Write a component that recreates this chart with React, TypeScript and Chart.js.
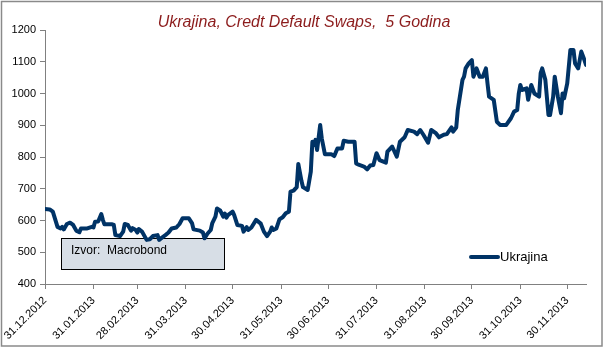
import React, { useEffect, useRef } from "react";
import { Chart, registerables } from "chart.js";

Chart.register(...registerables);

const TITLE = "Ukrajina, Credt Default Swaps,  5 Godina";
const SERIES_NAME = "Ukrajina";
const SOURCE = "Izvor:  Macrobond";

const dates = [
  "31.12.2012", "03.01.2013", "05.01.2013", "08.01.2013", "10.01.2013", "11.01.2013", "12.01.2013", "14.01.2013",
  "16.01.2013", "18.01.2013", "20.01.2013", "22.01.2013", "23.01.2013", "27.01.2013", "30.01.2013", "31.01.2013",
  "01.02.2013", "03.02.2013", "05.02.2013", "06.02.2013", "07.02.2013", "12.02.2013", "13.02.2013", "14.02.2013",
  "17.02.2013", "19.02.2013", "20.02.2013", "22.02.2013", "24.02.2013", "25.02.2013", "27.02.2013", "28.02.2013",
  "01.03.2013", "03.03.2013", "06.03.2013", "08.03.2013", "10.03.2013", "13.03.2013", "14.03.2013", "16.03.2013",
  "18.03.2013", "20.03.2013", "22.03.2013", "25.03.2013", "27.03.2013", "29.03.2013", "02.04.2013", "04.04.2013",
  "05.04.2013", "09.04.2013", "11.04.2013", "12.04.2013", "14.04.2013", "16.04.2013", "17.04.2013", "19.04.2013",
  "20.04.2013", "22.04.2013", "24.04.2013", "25.04.2013", "26.04.2013", "27.04.2013", "30.04.2013", "01.05.2013",
  "03.05.2013", "06.05.2013", "07.05.2013", "09.05.2013", "10.05.2013", "12.05.2013", "15.05.2013", "18.05.2013",
  "20.05.2013", "22.05.2013", "24.05.2013", "25.05.2013", "26.05.2013", "28.05.2013", "30.05.2013", "01.06.2013",
  "03.06.2013", "05.06.2013", "06.06.2013", "08.06.2013", "10.06.2013", "11.06.2013", "13.06.2013", "14.06.2013",
  "17.06.2013", "19.06.2013", "20.06.2013", "21.06.2013", "22.06.2013", "23.06.2013", "25.06.2013", "26.06.2013",
  "28.06.2013", "02.07.2013", "04.07.2013", "06.07.2013", "09.07.2013", "10.07.2013", "13.07.2013", "17.07.2013",
  "18.07.2013", "20.07.2013", "23.07.2013", "25.07.2013", "27.07.2013", "29.07.2013", "31.07.2013", "02.08.2013",
  "06.08.2013", "07.08.2013", "10.08.2013", "13.08.2013", "15.08.2013", "18.08.2013", "20.08.2013", "24.08.2013",
  "26.08.2013", "28.08.2013", "30.08.2013", "02.09.2013", "04.09.2013", "07.09.2013", "09.09.2013", "12.09.2013",
  "14.09.2013", "17.09.2013", "18.09.2013", "20.09.2013", "21.09.2013", "24.09.2013", "25.09.2013", "26.09.2013",
  "28.09.2013", "30.09.2013", "01.10.2013", "03.10.2013", "05.10.2013", "07.10.2013", "09.10.2013", "10.10.2013",
  "11.10.2013", "14.10.2013", "16.10.2013", "18.10.2013", "22.10.2013", "25.10.2013", "27.10.2013", "29.10.2013",
  "30.10.2013", "31.10.2013", "01.11.2013", "04.11.2013", "05.11.2013", "07.11.2013", "09.11.2013", "12.11.2013",
  "13.11.2013", "14.11.2013", "16.11.2013", "18.11.2013", "19.11.2013", "21.11.2013", "22.11.2013", "24.11.2013",
  "26.11.2013", "27.11.2013", "28.11.2013", "30.11.2013", "02.12.2013", "04.12.2013", "05.12.2013", "07.12.2013",
  "09.12.2013", "11.12.2013", "12.12.2013",
];

const cds = [
  636, 635, 628, 580, 575, 580, 572, 589,
  593, 586, 568, 563, 575, 575, 580, 578,
  596, 597, 620, 602, 588, 588, 586, 554,
  551, 565, 589, 586, 568, 576, 570, 562,
  573, 565, 539, 541, 551, 554, 539, 547,
  554, 562, 575, 578, 589, 607, 607, 592,
  572, 568, 562, 544, 559, 570, 592, 612,
  638, 632, 612, 622, 609, 617, 628, 617,
  586, 583, 565, 579, 570, 578, 602, 590,
  565, 551, 565, 578, 570, 575, 604, 610,
  623, 628, 691, 694, 705, 778, 725, 705,
  696, 754, 848, 838, 854, 822, 901, 859,
  809, 809, 803, 827, 827, 851, 848, 848,
  780, 775, 770, 761, 773, 775, 812, 790,
  782, 817, 833, 801, 848, 862, 885, 880,
  872, 885, 870, 845, 885, 875, 862, 870,
  872, 893, 880, 893, 948, 1043, 1053, 1079,
  1095, 1105, 1053, 1079, 1053, 1053, 1079, 1032,
  990, 980, 911, 901, 901, 922, 943, 948,
  1000, 1027, 1011, 1016, 980, 1027, 1000, 990,
  1064, 1079, 1043, 932, 932, 990, 1053, 990,
  938, 1000, 985, 1032, 1137, 1137, 1095, 1079,
  1132, 1105, 1090,
];

const tickDates = [
  "31.12.2012", "31.01.2013", "28.02.2013", "31.03.2013", "30.04.2013", "31.05.2013",
  "30.06.2013", "31.07.2013", "31.08.2013", "30.09.2013", "31.10.2013", "30.11.2013",
];

const yMin = 400;
const yMax = 1200;
const yStep = 100;

function dayOf(s: string): number {
  const [d, m, y] = s.split(".").map(Number);
  const base = Date.UTC(2012, 11, 31);
  return Math.round((Date.UTC(y, m - 1, d) - base) / 86400000);
}

const FONT = "Arial, 'Liberation Sans', sans-serif";
const NAVY = "#003366";

export default function App() {
  const ref = useRef<HTMLCanvasElement | null>(null);

  useEffect(() => {
    if (!ref.current) return;
    const tickMap = new Map<number, string>();
    tickDates.forEach((t) => tickMap.set(dayOf(t), t));
    const points = dates.map((d, i) => ({ x: dayOf(d), y: cds[i] }));

    const decor = {
      id: "decor",
      beforeDatasetsDraw(chart: any) {
        const ctx = chart.ctx;
        ctx.save();
        ctx.fillStyle = "#d7dee6";
        ctx.fillRect(61, 238, 163, 31);
        ctx.strokeStyle = "#000";
        ctx.lineWidth = 1;
        ctx.strokeRect(61.5, 238.5, 163, 31);
        ctx.fillStyle = "#000";
        ctx.font = `12px ${FONT}`;
        ctx.textBaseline = "middle";
        ctx.textAlign = "left";
        ctx.fillText(SOURCE, 71, 251);
        ctx.restore();
      },
      afterDraw(chart: any) {
        const ctx = chart.ctx;
        ctx.save();
        // title
        ctx.fillStyle = "#8c1c1c";
        ctx.font = `italic 16px ${FONT}`;
        ctx.textAlign = "center";
        ctx.textBaseline = "alphabetic";
        ctx.fillText(TITLE, 304, 27);
        // legend
        ctx.strokeStyle = NAVY;
        ctx.lineWidth = 4;
        ctx.lineCap = "round";
        ctx.beginPath();
        ctx.moveTo(471, 257);
        ctx.lineTo(498, 257);
        ctx.stroke();
        ctx.fillStyle = "#000";
        ctx.font = `13px ${FONT}`;
        ctx.textAlign = "left";
        ctx.textBaseline = "middle";
        ctx.fillText(SERIES_NAME, 500, 257);
        // outer frame
        ctx.strokeStyle = "#8a8a8a";
        ctx.lineWidth = 1.5;
        ctx.strokeRect(1.5, 1.5, 600.5, 344.5);
        ctx.restore();
      },
    };

    const chart = new Chart(ref.current, {
      type: "line",
      data: {
        datasets: [
          {
            label: SERIES_NAME,
            data: points,
            borderColor: NAVY,
            backgroundColor: NAVY,
            borderWidth: 4,
            pointRadius: 0,
            tension: 0,
            borderJoinStyle: "round",
            borderCapStyle: "round",
          },
        ],
      },
      options: {
        animation: false,
        responsive: false,
        events: [],
        layout: { padding: { top: 30, left: 0, right: 22, bottom: 0 } },
        plugins: {
          legend: { display: false },
          title: { display: false },
          tooltip: { enabled: false },
        },
        scales: {
          x: {
            type: "linear",
            min: dayOf(dates[0]),
            max: dayOf(dates[dates.length - 1]),
            afterFit(scale: any) {
              scale.height = 69;
            },
            afterBuildTicks(scale: any) {
              scale.ticks = tickDates.map((t) => ({ value: dayOf(t) }));
            },
            border: { color: "#808080", width: 1 },
            grid: { drawOnChartArea: false, tickLength: 5, color: "#808080" },
            ticks: {
              autoSkip: false,
              maxRotation: 45,
              minRotation: 45,
              color: "#000",
              font: { family: FONT, size: 11 },
              padding: 5,
              callback: (v: any) => tickMap.get(Number(v)) ?? "",
            },
          },
          y: {
            min: yMin,
            max: yMax,
            afterFit(scale: any) {
              scale.width = 45;
            },
            border: { color: "#808080", width: 1 },
            grid: { drawOnChartArea: false, tickLength: 5, color: "#808080" },
            ticks: {
              stepSize: yStep,
              color: "#000",
              font: { family: FONT, size: 11 },
              padding: 4,
              callback: (v: any) => String(v),
            },
          },
        },
      },
      plugins: [decor],
    });
    return () => chart.destroy();
  }, []);

  return (
    <div style={{ position: "absolute", left: 0, top: 0, width: 608, height: 353, background: "#fff" }}>
      <canvas ref={ref} width={608} height={353} />
    </div>
  );
}
